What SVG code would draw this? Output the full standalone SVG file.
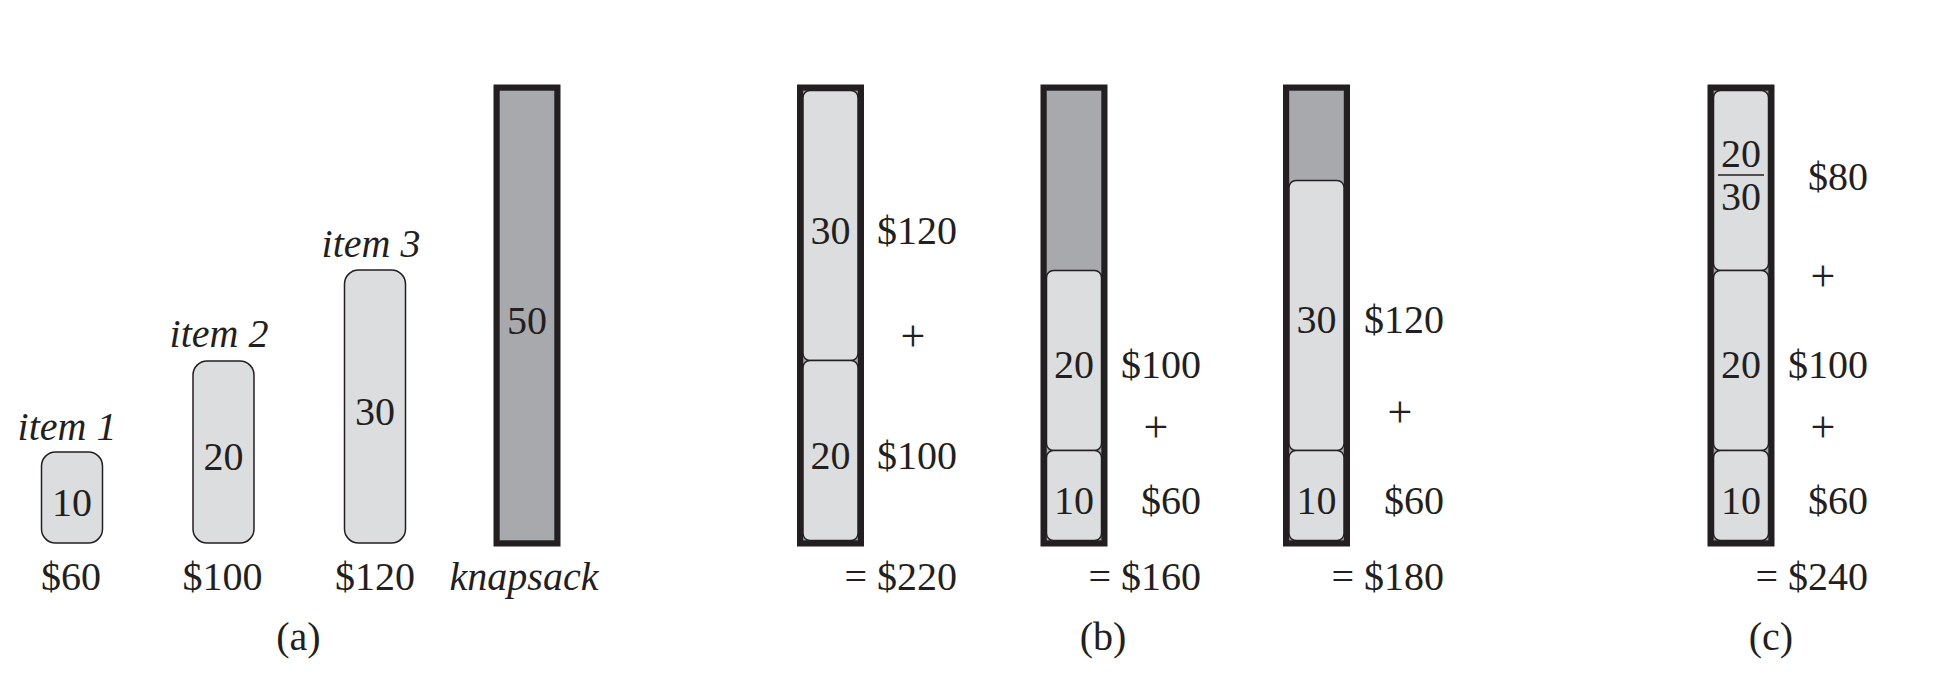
<svg xmlns="http://www.w3.org/2000/svg" width="1958" height="676" viewBox="0 0 1958 676">
<style>
.t{font-family:"Liberation Serif","Times New Roman",serif;font-size:40px;fill:#231f20}
.p{font-size:44px}
.i{font-style:italic}
.m{text-anchor:middle}
.e{text-anchor:end}
.item{fill:#dcdddf;stroke:#231f20;stroke-width:1.5}
.sack{fill:#a7a9ac;stroke:#6d6e71;stroke-width:1}
.frame{fill:none;stroke:#231f20;stroke-width:6}
.bar{stroke:#231f20;stroke-width:1.6}
</style>
<rect width="1958" height="676" fill="#ffffff"/>

<!-- (a) -->
<g id="item1">
<rect class="item" x="41.5" y="452" width="61" height="91" rx="14"/>
<text class="t i m" x="67" y="440">item 1</text>
<text class="t m" x="72" y="516">10</text>
<text class="t m" x="71" y="590">$60</text>
</g>
<g id="item2">
<rect class="item" x="193" y="361" width="61" height="182" rx="14"/>
<text class="t i m" x="219" y="347">item 2</text>
<text class="t m" x="223.5" y="470">20</text>
<text class="t m" x="222.5" y="590">$100</text>
</g>
<g id="item3">
<rect class="item" x="344.5" y="270" width="61" height="273" rx="14"/>
<text class="t i m" x="371" y="257">item 3</text>
<text class="t m" x="375" y="425">30</text>
<text class="t m" x="375" y="590">$120</text>
</g>
<g id="knapsack-a">
<rect class="sack" x="499.5" y="90.5" width="55" height="450"/>
<rect class="frame" x="496.5" y="87.5" width="61" height="456"/>
<text class="t m" x="527" y="334">50</text>
<text class="t i m" x="524" y="590">knapsack</text>
</g>
<text id="label-a" class="t m" x="298.5" y="650">(a)</text>

<!-- (b) 1 -->
<g id="knapsack-b1">
<rect class="sack" x="803" y="90.5" width="55" height="450"/>
<rect class="item" x="803" y="90.5" width="55" height="270" rx="7"/>
<rect class="item" x="803" y="360.5" width="55" height="180" rx="7"/>
<rect class="frame" x="800" y="87.5" width="61" height="456"/>
<text class="t m" x="830.5" y="244">30</text>
<text class="t m" x="830.5" y="469">20</text>
<text class="t e" x="957" y="244">$120</text>
<text class="t p m" x="913" y="351">+</text>
<text class="t e" x="957" y="469">$100</text>
<text class="t e" x="957" y="590">= $220</text>
</g>

<!-- (b) 2 -->
<g id="knapsack-b2">
<rect class="sack" x="1046.5" y="90.5" width="55" height="450"/>
<rect class="item" x="1046.5" y="270.5" width="55" height="180" rx="7"/>
<rect class="item" x="1046.5" y="450.5" width="55" height="90" rx="7"/>
<rect class="frame" x="1043.5" y="87.5" width="61" height="456"/>
<text class="t m" x="1074" y="378">20</text>
<text class="t m" x="1074" y="514">10</text>
<text class="t e" x="1201" y="378">$100</text>
<text class="t p m" x="1156" y="442">+</text>
<text class="t e" x="1201" y="514">$60</text>
<text class="t e" x="1201" y="590">= $160</text>
</g>

<!-- (b) 3 -->
<g id="knapsack-b3">
<rect class="sack" x="1289" y="90.5" width="55" height="450"/>
<rect class="item" x="1289" y="180.5" width="55" height="270" rx="7"/>
<rect class="item" x="1289" y="450.5" width="55" height="90" rx="7"/>
<rect class="frame" x="1286" y="87.5" width="61" height="456"/>
<text class="t m" x="1316.5" y="333">30</text>
<text class="t m" x="1316.5" y="514">10</text>
<text class="t e" x="1444" y="333">$120</text>
<text class="t p m" x="1400" y="427">+</text>
<text class="t e" x="1444" y="514">$60</text>
<text class="t e" x="1444" y="590">= $180</text>
</g>
<text id="label-b" class="t m" x="1103" y="650">(b)</text>

<!-- (c) -->
<g id="knapsack-c">
<rect class="sack" x="1713.5" y="90.5" width="55" height="450"/>
<rect class="item" x="1713.5" y="90.5" width="55" height="180" rx="7"/>
<rect class="item" x="1713.5" y="270.5" width="55" height="180" rx="7"/>
<rect class="item" x="1713.5" y="450.5" width="55" height="90" rx="7"/>
<rect class="frame" x="1710.5" y="87.5" width="61" height="456"/>
<text class="t m" x="1741" y="167">20</text>
<line class="bar" x1="1718" y1="175" x2="1764" y2="175"/>
<text class="t m" x="1741" y="210">30</text>
<text class="t m" x="1741" y="378">20</text>
<text class="t m" x="1741" y="514">10</text>
<text class="t e" x="1868" y="190">$80</text>
<text class="t p m" x="1823" y="291">+</text>
<text class="t e" x="1868" y="378">$100</text>
<text class="t p m" x="1823" y="442">+</text>
<text class="t e" x="1868" y="514">$60</text>
<text class="t e" x="1868" y="590">= $240</text>
</g>
<text id="label-c" class="t m" x="1771" y="650">(c)</text>
</svg>
